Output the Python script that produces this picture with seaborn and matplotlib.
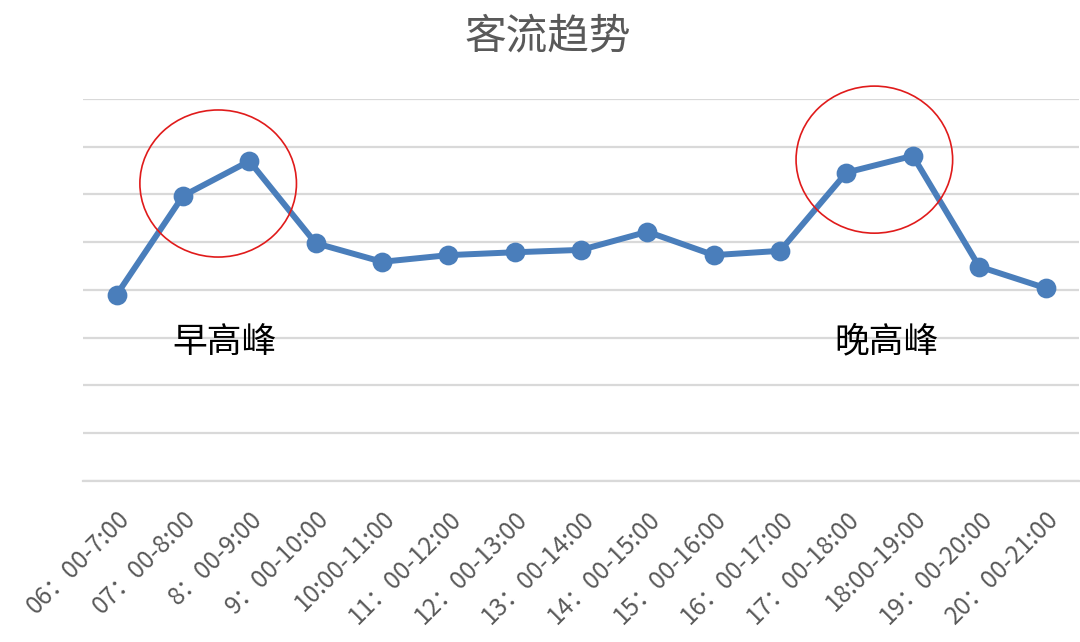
import matplotlib

matplotlib.use("Agg")
import matplotlib.pyplot as plt
import numpy as np
import pandas as pd
import seaborn as sns
from matplotlib.patches import Ellipse

# time slots as printed on the chart (full-width colons kept where the original has them)
slots = [
    "06：00-7:00", "07：00-8:00", "8：00-9:00", "9：00-10:00", "10:00-11:00",
    "11：00-12:00", "12：00-13:00", "13：00-14:00", "14：00-15:00", "15：00-16:00",
    "16：00-17:00", "17：00-18:00", "18:00-19:00", "19：00-20:00", "20：00-21:00",
]
# passenger flow (grid units, y axis is unlabeled)
flow = [3.90, 5.97, 6.70, 4.98, 4.59, 4.73, 4.79, 4.84, 5.22, 4.73, 4.82, 6.46, 6.81, 4.49, 4.04]

peak_labels = ["早高峰", "晚高峰"]
peak_slots = [1.62, 11.60]      # label centres (category index)
peak_circle_x = [1.53, 11.42]
peak_circle_y = [6.23, 6.73]

BLUE = "#4a7ebb"
GRID = "#d9d9d9"
GREY_TEXT = "#595959"
CJK = ["Noto Sans CJK SC", "DejaVu Sans"]

sns.set_theme(style="white")
plt.rcParams["font.family"] = CJK

df = pd.DataFrame({"slot": slots, "flow": flow})

fig = plt.figure(figsize=(10.8, 6.42), dpi=100)
ax = fig.add_axes([0.0773, 0.2508, 0.9215, 0.595])

sns.pointplot(
    data=df, x="slot", y="flow", order=slots, ax=ax,
    color=BLUE, markers="o", markersize=11, linewidth=4.3, errorbar=None,
)

ax.set_ylim(0, 8)
ax.set_xlim(-0.5, len(slots) - 0.5)
ax.set_yticks(np.arange(0, 9, 1))
ax.yaxis.grid(True, color=GRID, lw=1.6)
ax.set_axisbelow(True)
ax.tick_params(axis="y", left=False, labelleft=False)
ax.tick_params(axis="x", bottom=False, pad=12)
for side in ["left", "right", "top"]:
    ax.spines[side].set_visible(False)
ax.spines["bottom"].set_color(GRID)
ax.spines["bottom"].set_linewidth(1.6)
ax.set_xlabel("")
ax.set_ylabel("")

ax.set_xticks(range(len(slots)))
ax.set_xticklabels(slots, rotation=45, ha="right", rotation_mode="anchor",
                   fontsize=17.5, color=GREY_TEXT, family=CJK)

# peak annotations
for cx, cy in zip(peak_circle_x, peak_circle_y):
    ax.add_patch(Ellipse((cx, cy), width=2.36, height=3.08, fill=False,
                         edgecolor="#e01b1b", lw=1.2, zorder=5, clip_on=False))
for lab, x in zip(peak_labels, peak_slots):
    ax.text(x, 2.91, lab, ha="center", va="center", fontsize=25,
            color="black", family=CJK)

fig.text(0.507, 0.942, "客流趋势", ha="center", va="center",
         fontsize=30, color=GREY_TEXT, family=CJK)

fig.savefig("out.png", dpi=100)
